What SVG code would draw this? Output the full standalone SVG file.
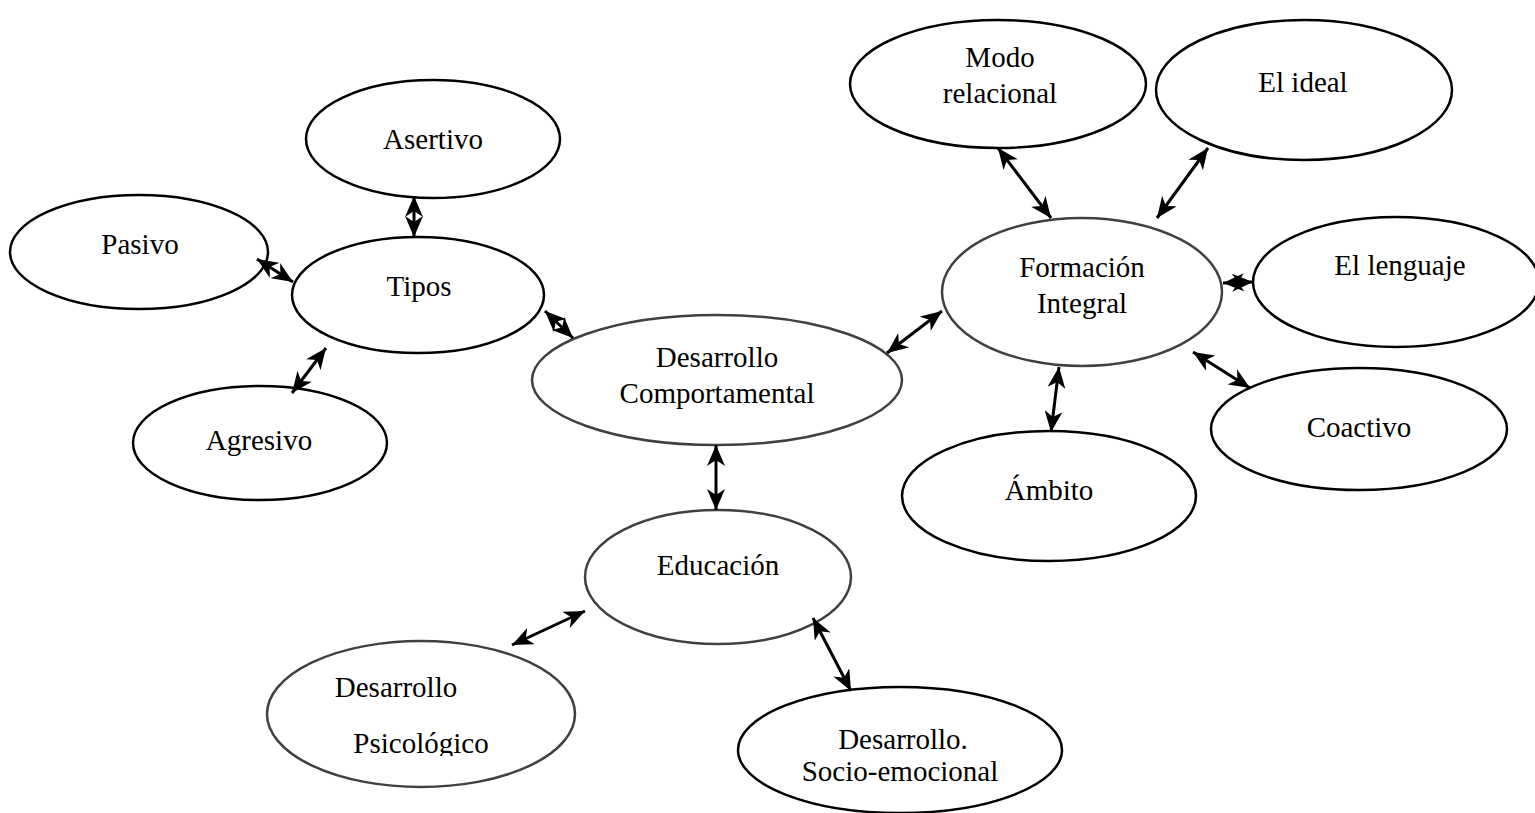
<svg xmlns="http://www.w3.org/2000/svg" width="1535" height="813" viewBox="0 0 1535 813">
<style>
.n{fill:#fff;stroke:#000;stroke-width:2.5}
.g{stroke:#404040}
.t{font-family:"Liberation Serif","Times New Roman",serif;font-size:29px;fill:#000;text-anchor:middle}
.c{stroke:#000;stroke-width:3;fill:none;marker-start:url(#ah);marker-end:url(#ah)}
</style>
<defs>
<marker id="ah" markerUnits="userSpaceOnUse" markerWidth="22" markerHeight="18" refX="21" refY="9" orient="auto-start-reverse" viewBox="0 0 22 18">
<path d="M0,0 L21,9 L0,18 L6,9 z" fill="#000"/>
</marker>
<clipPath id="clipPs"><rect x="260" y="640" width="320" height="116"/></clipPath>
</defs>
<rect width="1535" height="813" fill="#fff"/>

<g id="asertivo"><ellipse class="n" cx="433" cy="139" rx="127" ry="59"/><text class="t" x="433" y="149">Asertivo</text></g>
<g id="pasivo"><ellipse class="n" cx="139" cy="252" rx="129" ry="57"/><text class="t" x="140" y="254">Pasivo</text></g>
<g id="tipos"><ellipse class="n" cx="418" cy="295" rx="126" ry="58"/><text class="t" x="419" y="296">Tipos</text></g>
<g id="agresivo"><ellipse class="n" cx="260" cy="443" rx="127" ry="57"/><text class="t" x="259" y="450">Agresivo</text></g>
<g id="comportamental"><ellipse class="n g" cx="717" cy="380" rx="185" ry="65"/><text class="t" x="717" y="367">Desarrollo</text><text class="t" x="717" y="403">Comportamental</text></g>
<g id="educacion"><ellipse class="n g" cx="718" cy="577" rx="133" ry="67"/><text class="t" x="718" y="575">Educación</text></g>
<g id="psicologico"><ellipse class="n g" cx="421" cy="714" rx="154" ry="73"/><g clip-path="url(#clipPs)"><text class="t" x="396" y="697">Desarrollo</text><text class="t" x="421" y="753">Psicológico</text></g></g>
<g id="socioemocional"><ellipse class="n" cx="900" cy="750" rx="162" ry="63"/><text class="t" x="903" y="749">Desarrollo.</text><text class="t" x="900" y="781">Socio-emocional</text></g>
<g id="formacion"><ellipse class="n g" cx="1082" cy="292" rx="140" ry="74"/><text class="t" x="1082" y="277">Formación</text><text class="t" x="1082" y="313">Integral</text></g>
<g id="modo"><ellipse class="n" cx="998" cy="84" rx="148" ry="64"/><text class="t" x="1000" y="67">Modo</text><text class="t" x="1000" y="103">relacional</text></g>
<g id="ideal"><ellipse class="n" cx="1304" cy="90" rx="148" ry="70"/><text class="t" x="1303" y="92">El ideal</text></g>
<g id="lenguaje"><ellipse class="n" cx="1396" cy="282" rx="143" ry="65"/><text class="t" x="1400" y="275">El lenguaje</text></g>
<g id="coactivo"><ellipse class="n" cx="1359" cy="429" rx="148" ry="61"/><text class="t" x="1359" y="437">Coactivo</text></g>
<g id="ambito"><ellipse class="n" cx="1049" cy="496" rx="147" ry="65"/><text class="t" x="1049" y="500">Ámbito</text></g>

<g id="connectors">
<line class="c" x1="414" y1="196" x2="414" y2="237"/>
<line class="c" x1="257" y1="259" x2="293" y2="282"/>
<line class="c" x1="292" y1="393" x2="326" y2="348"/>
<line class="c" x1="545" y1="311" x2="573" y2="338"/>
<line class="c" x1="887" y1="353" x2="942" y2="311"/>
<line class="c" x1="998" y1="148" x2="1051" y2="218"/>
<line class="c" x1="1208" y1="148" x2="1157" y2="218"/>
<line class="c" x1="1253" y1="282" x2="1223" y2="283"/>
<line class="c" x1="1193" y1="352" x2="1250" y2="388"/>
<line class="c" x1="1059" y1="367" x2="1051" y2="432"/>
<line class="c" x1="716" y1="445" x2="716" y2="510"/>
<line class="c" x1="512" y1="645" x2="585" y2="611"/>
<line class="c" x1="813" y1="618" x2="851" y2="691"/>
</g>
</svg>
